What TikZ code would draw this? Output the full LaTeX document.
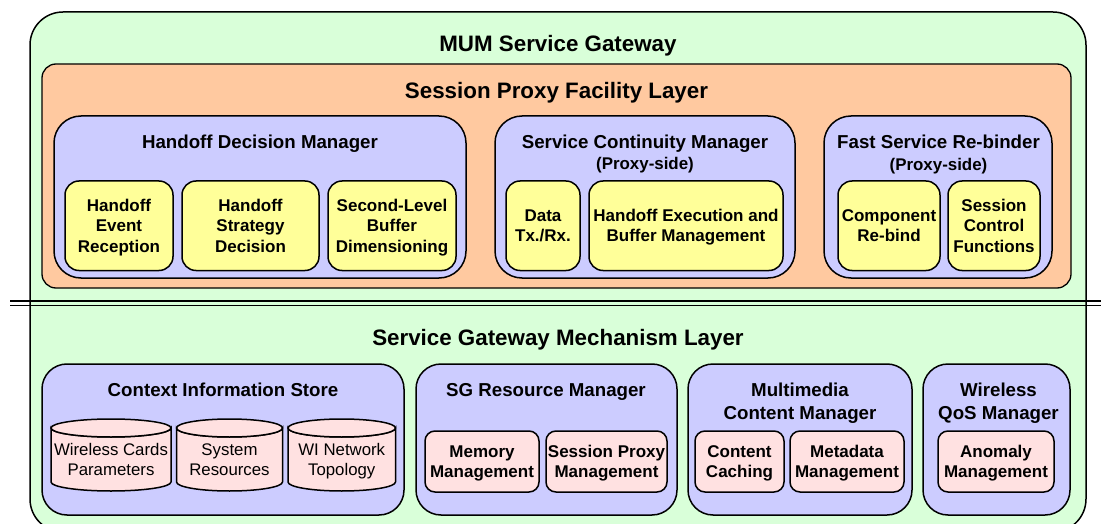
\documentclass[tikz,border=0pt]{standalone}
\usepackage{fontspec}
\setmainfont{Liberation Sans}
\newcommand{\tb}[1]{\raisebox{-6pt}[0pt][0pt]{\begin{tabular}{@{}c@{}}#1\end{tabular}}}
\tikzset{x=1pt,y=1pt,
  base/.style={draw=black,line width=1.5pt,inner sep=0pt,outer sep=0pt},
  gatewaybox/.style={base,fill=green0,rounded corners=33pt},
  layerbox/.style={base,line width=1.3pt,fill=orange0,rounded corners=14pt},
  managerbox/.style={base,fill=blue0,rounded corners=27pt},
  lowerbox/.style={base,fill=blue0,rounded corners=25pt},
  funcbox/.style={base,fill=yellow0,rounded corners=14pt,font=\fontsize{17}{20.5}\bfseries\selectfont},
  mechbox/.style={base,fill=pink0,rounded corners=10pt,font=\fontsize{17}{20.5}\bfseries\selectfont},
  bigtitle/.style={font=\fontsize{22.35}{26}\bfseries\selectfont,inner sep=0pt},
  midtitle/.style={font=\fontsize{18.7}{23}\bfseries\selectfont,inner sep=0pt},
  subtitle/.style={font=\fontsize{16.9}{20}\bfseries\selectfont,inner sep=0pt},
  cyltext/.style={font=\fontsize{16.8}{20}\selectfont,inner sep=0pt},
  cylbody/.style={base,fill=pink0},
  sep/.style={draw=black},
}
\definecolor{green0}{HTML}{D9FFD9}
\definecolor{orange0}{HTML}{FFC9A0}
\definecolor{blue0}{HTML}{CCCCFF}
\definecolor{yellow0}{HTML}{FFFF99}
\definecolor{pink0}{HTML}{FFE1E1}
% \bx{name}{style}{x1}{y1}{x2}{y2}{text}
\newcommand{\bx}[7]{%
  \pgfmathsetmacro{\bxw}{#5-#3}\pgfmathsetmacro{\bxh}{#6-#4}%
  \pgfmathsetmacro{\bxcx}{(#3+#5)/2}\pgfmathsetmacro{\bxcy}{-(#4+#6)/2}%
  \node[#2,minimum width=\bxw pt,minimum height=\bxh pt] (#1) at (\bxcx,\bxcy) {\tb{#7}};}
% \ttl{name}{style}{cx}{cy}{text}
\newcommand{\ttl}[5]{\node[#2] (#1) at (#3,-#4) {\tb{#5}};}
% \cyl{name}{x1}{x2}{text}
\newcommand{\cyl}[4]{%
  \pgfmathsetmacro{\cylrx}{(#3-#2)/2}\pgfmathsetmacro{\cylcx}{(#3+#2)/2}%
  \draw[cylbody] (#2,-428) arc[start angle=180,end angle=360,x radius=\cylrx pt,y radius=9pt]
     -- (#3,-482) arc[start angle=0,end angle=-180,x radius=\cylrx pt,y radius=9pt] -- cycle;
  \draw[cylbody] (\cylcx,-428) ellipse[x radius=\cylrx pt,y radius=9pt];
  \node[cyltext] (#1) at (\cylcx,-460) {\tb{#4}};}
\begin{document}
\begin{tikzpicture}
\useasboundingbox (0,0) rectangle (1101,-524);
\clip (0,0) rectangle (1101,-524);
\bx{gw}{gatewaybox}{30}{12}{1086}{532}{}
\ttl{gwt}{bigtitle}{558}{45.5}{MUM Service Gateway}
\bx{spf}{layerbox}{42}{64}{1071}{288}{}
\ttl{spft}{bigtitle}{556.5}{92.5}{Session Proxy Facility Layer}
\bx{hdm}{managerbox}{54}{116}{466}{278}{}
\ttl{hdmt}{midtitle}{260}{142.5}{Handoff Decision Manager}
\bx{scm}{managerbox}{495}{116}{795}{278}{}
\ttl{scmt}{midtitle}{645}{142.5}{Service Continuity Manager}
\ttl{scms}{subtitle}{645}{163.5}{(Proxy-side)}
\bx{fsr}{managerbox}{824}{116}{1052}{278}{}
\ttl{fsrt}{midtitle}{938.5}{142.5}{Fast Service Re-binder}
\ttl{fsrs}{subtitle}{938.5}{164.5}{(Proxy-side)}
\bx{f1}{funcbox}{65}{181}{173}{270.5}{Handoff\\Event\\Reception}
\bx{f2}{funcbox}{182}{181}{319}{270.5}{Handoff\\Strategy\\Decision}
\bx{f3}{funcbox}{328}{181}{456}{270.5}{Second-Level\\Buffer\\Dimensioning}
\bx{f4}{funcbox}{506}{181}{580}{270.5}{Data\\Tx./Rx.}
\bx{f5}{funcbox}{589}{181}{783}{270.5}{Handoff Execution and\\Buffer Management}
\bx{f6}{funcbox}{838}{181}{940}{270.5}{Component\\Re-bind}
\bx{f7}{funcbox}{948}{181}{1040}{270.5}{Session\\Control\\Functions}
\coordinate (sl) at (10,-301);
\coordinate (sr) at (1101,-301);
\coordinate (tl) at (10,-305.5);
\coordinate (tr) at (1101,-305.5);
\draw[sep,line width=2pt] (sl) -- (sr);
\draw[sep,line width=1.3pt] (tl) -- (tr);
\ttl{sgt}{bigtitle}{558}{339.5}{Service Gateway Mechanism Layer}
\bx{cis}{lowerbox}{42}{364}{404}{515}{}
\ttl{cist}{midtitle}{223}{390.5}{Context Information Store}
\bx{res}{lowerbox}{416}{364}{677}{515}{}
\ttl{rest}{midtitle}{546}{390.5}{SG Resource Manager}
\bx{mcm}{lowerbox}{688}{364}{912}{515}{}
\ttl{mcmt}{midtitle}{800}{401.5}{Multimedia\\Content Manager}
\bx{qos}{lowerbox}{923}{364}{1070}{515}{}
\ttl{qost}{midtitle}{998.5}{401.5}{Wireless\\QoS Manager}
\cyl{c1}{51}{171}{Wireless Cards\\Parameters}
\cyl{c2}{176.5}{282.5}{System\\Resources}
\cyl{c3}{288}{395.5}{WI Network\\Topology}
\bx{m1}{mechbox}{425}{431}{539}{492}{Memory\\Management}
\bx{m2}{mechbox}{546}{431}{667}{492}{Session Proxy\\Management}
\bx{m3}{mechbox}{695}{431}{784}{492}{Content\\Caching}
\bx{m4}{mechbox}{790}{431}{904}{492}{Metadata\\Management}
\bx{m5}{mechbox}{938}{431}{1054}{492}{Anomaly\\Management}
\end{tikzpicture}
\end{document}
